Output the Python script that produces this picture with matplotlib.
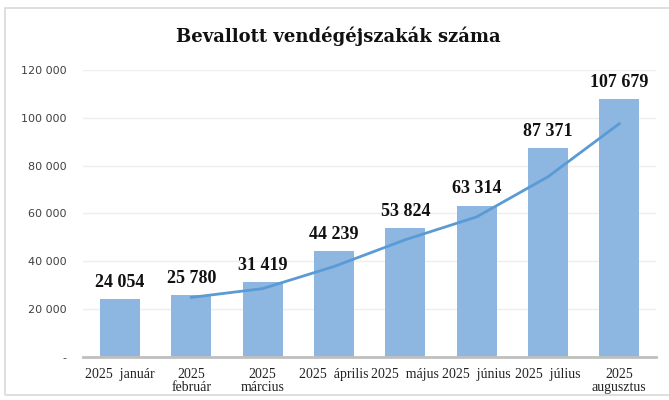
import matplotlib.pyplot as plt
from matplotlib.patches import Rectangle
import numpy as np

# adatok
honapok = ['2025  január', '2025\nfebruár', '2025\nmárcius', '2025  április',
           '2025  május', '2025  június', '2025  július', '2025\naugusztus']
vendegejszakak = [24054, 25780, 31419, 44239, 53824, 63314, 87371, 107679]
cimkek = ['24 054', '25 780', '31 419', '44 239', '53 824', '63 314', '87 371', '107 679']
# trendvonal (februártól), leolvasva
trend_x = [1, 2, 3, 4, 5, 6, 7]
trend = [24917, 28600, 37829, 49032, 58569, 75343, 97525]
y_ticks = [0, 20000, 40000, 60000, 80000, 100000, 120000]
y_tick_labels = ['-', '20 000', '40 000', '60 000', '80 000', '100 000', '120 000']

serif = 'DejaVu Serif'
serif2 = 'Liberation Serif'

fig = plt.figure(figsize=(6.69, 4.0), dpi=100)
ax = fig.add_axes([0.124, 0.1075, 0.857, 0.7175])

x = np.arange(len(honapok))
ax.bar(x, vendegejszakak, width=0.56, color='#8DB6E1', zorder=2)
ax.plot(trend_x, trend, color='#5B9BD5', linewidth=2, zorder=3)

for xi, v, c in zip(x, vendegejszakak, cimkek):
    ax.annotate(c, (xi, v), xytext=(0, 6), textcoords='offset points',
                ha='center', va='bottom', fontsize=13, fontweight='bold',
                family=serif2, color='#111111')

ax.set_xlim(-0.52, 7.52)
ax.set_ylim(0, 120000)
ax.set_yticks(y_ticks)
ax.set_yticklabels(y_tick_labels, fontsize=8, color='#404040', family='Liberation Sans Narrow')
ax.set_xticks(x)
ax.set_xticklabels(honapok, fontsize=10, family=serif2, color='#222222', linespacing=1.0)
ax.tick_params(axis='both', length=0)
ax.tick_params(axis='y', pad=12)
ax.tick_params(axis='x', pad=8)

ax.grid(axis='y', color='#EEEEEE', linewidth=1, zorder=0)
for s in ['top', 'right', 'left']:
    ax.spines[s].set_visible(False)
ax.spines['bottom'].set_color('#BFBFBF')
ax.spines['bottom'].set_linewidth(2)

fig.suptitle('Bevallott vendégéjszakák száma', x=0.505, y=0.935, fontsize=13,
             fontweight='bold', family=serif, color='#111111')

# keret
fig.patches.append(Rectangle((0.008, 0.012), 0.995, 0.968, transform=fig.transFigure,
                             fill=False, edgecolor='#D9D9D9', linewidth=1.2))

fig.savefig('out.png', dpi=100)
